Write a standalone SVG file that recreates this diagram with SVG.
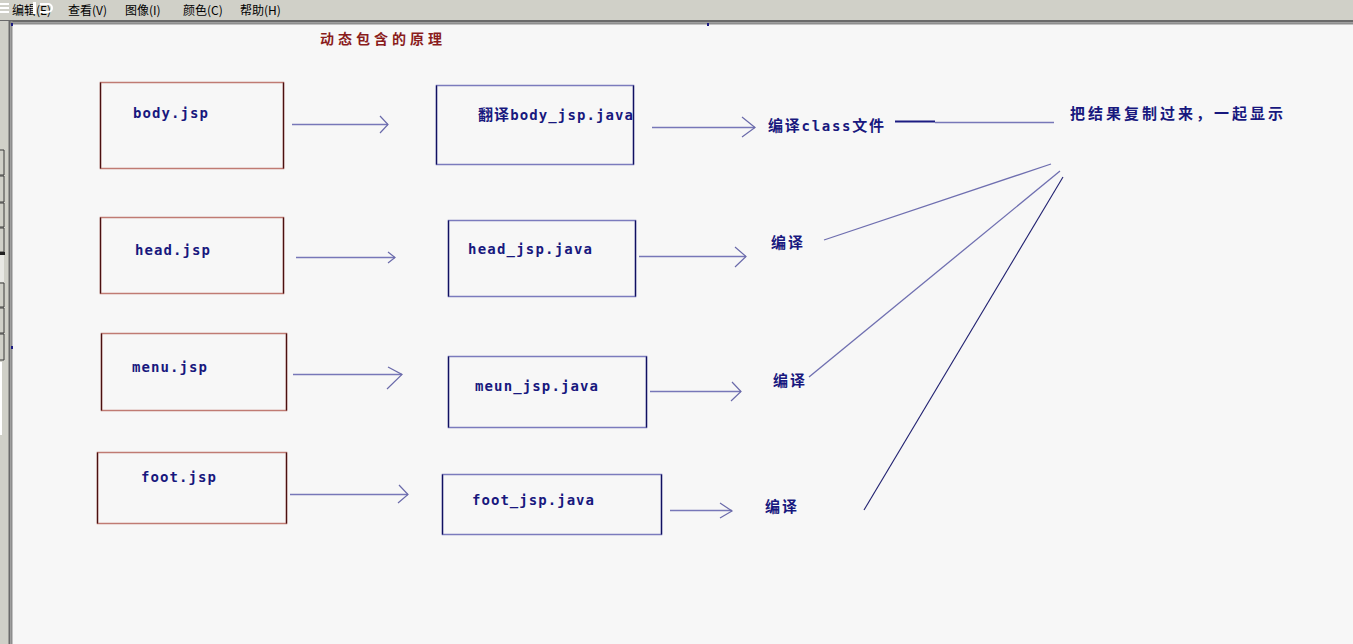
<svg xmlns="http://www.w3.org/2000/svg" width="1353" height="644" viewBox="0 0 1353 644">
<style>
.menu{font:12px "Noto Sans CJK SC","Liberation Sans",sans-serif;fill:#000}
.t{font:bold 14px "DejaVu Sans Mono","Noto Sans CJK SC",monospace;fill:#18187e}
.k{font-size:15px}
.ttl{font:bold 14px "Noto Sans CJK SC",sans-serif;fill:#8a1c1c}
.rb{fill:none;stroke:#c07b73;stroke-width:1.5}
.rs{stroke:#4a1010;stroke-width:1.3}
.bb{fill:none;stroke:#7b7bbd;stroke-width:1.5}
.bs{stroke:#101060;stroke-width:1.3}
.c{fill:none;stroke:#7777b8;stroke-width:1.5}
.h{fill:none;stroke:#6a6aaa;stroke-width:1.2}
.f{fill:none;stroke:#6f6fb0;stroke-width:1.3}
</style>
<rect x="0" y="0" width="1353" height="644" fill="#f7f7f7"/>
<!-- window chrome -->
<g id="chrome">
<rect x="0" y="0" width="1353" height="21" fill="#d0d0c8"/>
<rect x="0" y="20" width="1353" height="2.5" fill="#6a6a6a"/>
<rect x="0" y="22.5" width="1353" height="2" fill="#8e8e8e"/>
<rect x="0" y="21" width="9" height="623" fill="#d0d0c8"/>
<rect x="8.5" y="21" width="2" height="623" fill="#6a6a6a"/>
<rect x="10.5" y="21" width="2" height="623" fill="#8e8e8e"/>
<g fill="none" stroke="#3a3a3a" stroke-width="1">
<path d="M0 150H4V175H0M0 176H4V202H0M0 203H4V227H0M0 228H4V252H0M0 283H4V307H0M0 308H4V333H0M0 334H4V360H0"/>
</g>
<rect x="0" y="252" width="5" height="3" fill="#202020"/>
<rect x="0" y="255" width="4" height="27" fill="#e8e8e4"/>
<rect x="0" y="362" width="2" height="73" fill="#ffffff"/>
<rect x="11" y="346" width="2" height="3" fill="#1c1c82"/>
<rect x="11" y="23" width="2" height="3" fill="#1c1c82"/>
<rect x="707" y="23" width="2" height="3" fill="#1c1c82"/>
<text class="menu" x="12" y="15">编辑(E)</text>
<text class="menu" x="68" y="15">查看(V)</text>
<text class="menu" x="125" y="15">图像(I)</text>
<text class="menu" x="183" y="15">颜色(C)</text>
<text class="menu" x="240" y="15">帮助(H)</text>
<g fill="#ffffff">
<rect x="0" y="3" width="9" height="2"/>
<rect x="0" y="7" width="9" height="2"/>
<rect x="0" y="11" width="9" height="2"/>
<rect x="33" y="2" width="3" height="12"/>
<path d="M40 3h8a4 4 0 0 1 0 10h-8v-2h8a2 2 0 0 0 0-6h-8z"/>
</g>
</g>
<text class="ttl" x="320" y="44" textLength="122" lengthAdjust="spacing">动态包含的原理</text>
<!-- source nodes -->
<g id="body_jsp">
<rect class="rb" x="100.5" y="82.5" width="183" height="86"/>
<path class="rs" d="M100.5 82.5V168.5M283.5 82.5V168.5"/>
<text class="t" x="133" y="118" textLength="75" lengthAdjust="spacing">body.jsp</text>
</g>
<g id="head_jsp">
<rect class="rb" x="100.5" y="217.5" width="183" height="76"/>
<path class="rs" d="M100.5 217.5V293.5M283.5 217.5V293.5"/>
<text class="t" x="135" y="255" textLength="75" lengthAdjust="spacing">head.jsp</text>
</g>
<g id="menu_jsp">
<rect class="rb" x="101.5" y="333.5" width="185" height="77"/>
<path class="rs" d="M101.5 333.5V410.5M286.5 333.5V410.5"/>
<text class="t" x="132" y="372" textLength="75" lengthAdjust="spacing">menu.jsp</text>
</g>
<g id="foot_jsp">
<rect class="rb" x="97.5" y="452.5" width="189" height="71"/>
<path class="rs" d="M97.5 452.5V523.5M286.5 452.5V523.5"/>
<text class="t" x="141" y="482" textLength="75" lengthAdjust="spacing">foot.jsp</text>
</g>
<!-- java nodes -->
<g id="body_java">
<rect class="bb" x="436.5" y="85.5" width="197" height="79"/>
<path class="bs" d="M436.5 85.5V164.5M633.5 85.5V164.5"/>
<text class="t" x="478" y="120" textLength="155" lengthAdjust="spacing"><tspan class="k">翻译</tspan>body_jsp.java</text>
</g>
<g id="head_java">
<rect class="bb" x="448.5" y="220.5" width="187" height="76"/>
<path class="bs" d="M448.5 220.5V296.5M635.5 220.5V296.5"/>
<text class="t" x="468" y="254" textLength="124" lengthAdjust="spacing">head_jsp.java</text>
</g>
<g id="menu_java">
<rect class="bb" x="448.5" y="356.5" width="198" height="71"/>
<path class="bs" d="M448.5 356.5V427.5M646.5 356.5V427.5"/>
<text class="t" x="475" y="391" textLength="123" lengthAdjust="spacing">meun_jsp.java</text>
</g>
<g id="foot_java">
<rect class="bb" x="442.5" y="474.5" width="219" height="60"/>
<path class="bs" d="M442.5 474.5V534.5M661.5 474.5V534.5"/>
<text class="t" x="472" y="505" textLength="122" lengthAdjust="spacing">foot_jsp.java</text>
</g>
<!-- compile nodes -->
<g id="compile_class">
<text class="t" x="768" y="131" textLength="116" lengthAdjust="spacing"><tspan class="k">编译</tspan>class<tspan class="k">文件</tspan></text>
</g>
<g id="compile_head">
<text class="t k" x="771" y="248" textLength="32" lengthAdjust="spacing">编译</text>
</g>
<g id="compile_menu">
<text class="t k" x="773" y="386" textLength="32" lengthAdjust="spacing">编译</text>
</g>
<g id="compile_foot">
<text class="t k" x="765" y="512" textLength="32" lengthAdjust="spacing">编译</text>
</g>
<g id="result">
<text class="t k" x="1070" y="119" textLength="213" lengthAdjust="spacing">把结果复制过来，一起显示</text>
</g>
<!-- connectors -->
<g id="connectors">
<path class="c" d="M292 124.5H388"/>
<path class="h" d="M380 116L388 124.5L380 133"/>
<path class="c" d="M652 127.5H755"/>
<path class="h" d="M742 117L755 127.5L742 137"/>
<path class="c" d="M296 257.5H395"/>
<path class="h" d="M388 252L395 257.5L388 263"/>
<path class="c" d="M639 256.5H746"/>
<path class="h" d="M735 247L746 256.5L735 267"/>
<path class="c" d="M293 374.5H402"/>
<path class="h" d="M388 367L402 374.5L387 389"/>
<path class="c" d="M650 391.5H741"/>
<path class="h" d="M732 382L741 391.5L731 401"/>
<path class="c" d="M290 494.5H408"/>
<path class="h" d="M399 485L408 494.5L398 503"/>
<path class="c" d="M670 510.5H732"/>
<path class="h" d="M720 503L732 511L720 518"/>
<path d="M895 121.5H935" stroke="#1c1c82" stroke-width="2" fill="none"/>
<path class="c" d="M935 122.5H1054"/>
<path class="f" d="M824 240L1051 164"/>
<path class="f" d="M809 377L1060 171"/>
<path d="M864 510L1063 177" stroke="#202070" stroke-width="1.1" fill="none"/>
</g>
</svg>
